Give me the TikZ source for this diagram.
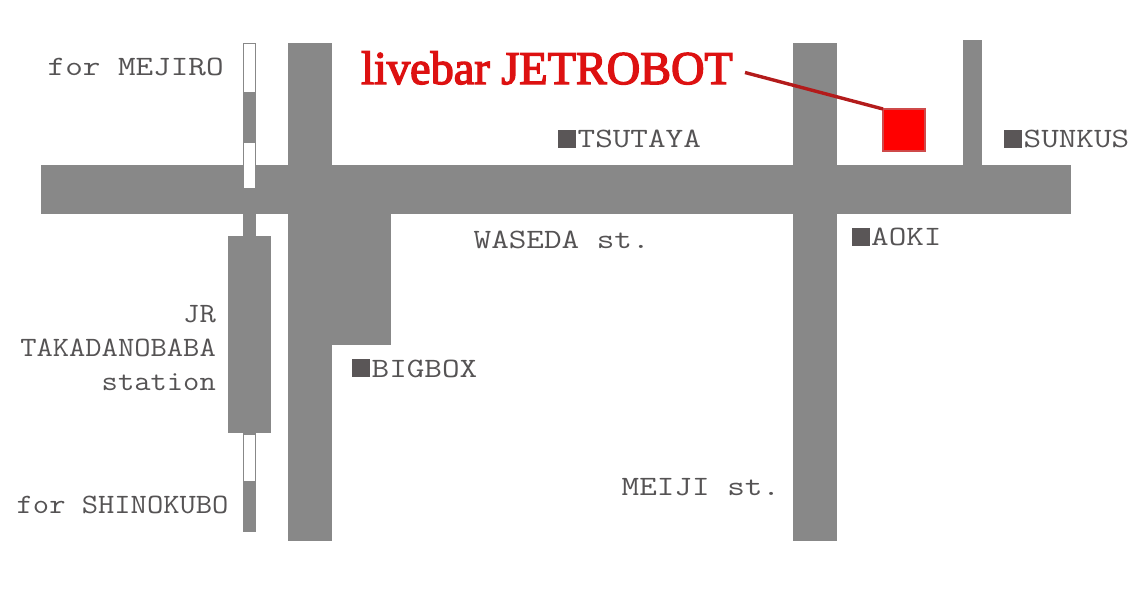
\documentclass[tikz,border=0pt]{standalone}
\usepackage{fontspec}
\usepackage{graphicx}
\newfontfamily\titlefont[FakeBold=3]{Liberation Serif}
\definecolor{road}{HTML}{888888}
\definecolor{ink}{HTML}{555354}
\definecolor{mark}{HTML}{5A5657}
\definecolor{titlered}{HTML}{DD1111}
\definecolor{leader}{HTML}{B31B1B}
\definecolor{barline}{HTML}{CF4A4A}
\newcommand{\wideT}[1]{\scalebox{1.22}[1]{\fontsize{28}{28}\selectfont\ttfamily #1}}
\newcommand{\narrowT}[1]{\scalebox{1.13}[1]{\fontsize{28}{28}\selectfont\ttfamily #1}}
\tikzset{
  roadfill/.style={fill=road,draw=none},
  railwhite/.style={fill=white,draw=road,line width=1pt},
  label/.style={inner sep=0pt,anchor=base west,text=ink},
  labelr/.style={inner sep=0pt,anchor=base east,text=ink},
  shopmark/.style={fill=mark,draw=none,inner sep=0pt,minimum size=17.5pt,anchor=north west}
}
\begin{document}
\begin{tikzpicture}[x=1pt,y=-1pt]
\useasboundingbox (0,0) rectangle (1136,590);
% roads
\fill[roadfill] (40.5,165) rectangle (1070.5,214);
\fill[roadfill] (288,43) rectangle (332,541);
\fill[roadfill] (332,214) rectangle (391,345);
\fill[roadfill] (793,43) rectangle (837,541);
\fill[roadfill] (963,40) rectangle (982,165);
% railway
\fill[roadfill] (243,43) rectangle (256,532);
\fill[roadfill] (227.5,236) rectangle (271,433);
\draw[railwhite] (243.5,43.5) rectangle (255.5,92);
\draw[railwhite] (243.5,142) rectangle (255.5,188);
\draw[railwhite] (243.5,434) rectangle (255.5,481);
% venue
\node[fill=red,draw=barline,line width=1.2pt,inner sep=0pt,minimum size=42pt,outer sep=0pt,anchor=north west] (bar) at (883,109) {};
\node[inner sep=0pt,anchor=base west,text=titlered,font=\titlefont\fontsize{47}{47}\selectfont] (title) at (361,84) {\scalebox{0.985}[1]{livebar JETROBOT}};
\coordinate (lead) at (745,72.5);
\draw[leader,line width=3.4pt] (lead) -- (bar.north west);
% shop marks and labels
\node[shopmark] (m1) at (558,130) {};
\node[label] (tsutaya) at (577.5,147) {\wideT{TSUTAYA}};
\node[shopmark] (m2) at (1004,130) {};
\node[label] (sunkus) at (1023.5,147) {\wideT{SUNKUS}};
\node[shopmark] (m3) at (852,228) {};
\node[label] (aoki) at (871,245) {\wideT{AOKI}};
\node[shopmark] (m4) at (352,359) {};
\node[label] (bigbox) at (371.5,377) {\wideT{BIGBOX}};
% other labels
\node[label] (mejiro) at (47.5,75) {\wideT{for MEJIRO}};
\node[label] (waseda) at (473.5,248) {\wideT{WASEDA st.}};
\node[label] (meiji) at (621.5,495) {\wideT{MEIJI st.}};
\node[label] (shinokubo) at (16.5,513) {\narrowT{for SHINOKUBO}};
\node[labelr] (jr) at (216,322) {\narrowT{JR}};
\node[labelr] (baba) at (216,356) {\narrowT{TAKADANOBABA}};
\node[labelr] (station) at (216,390) {\narrowT{station}};
\end{tikzpicture}
\end{document}
